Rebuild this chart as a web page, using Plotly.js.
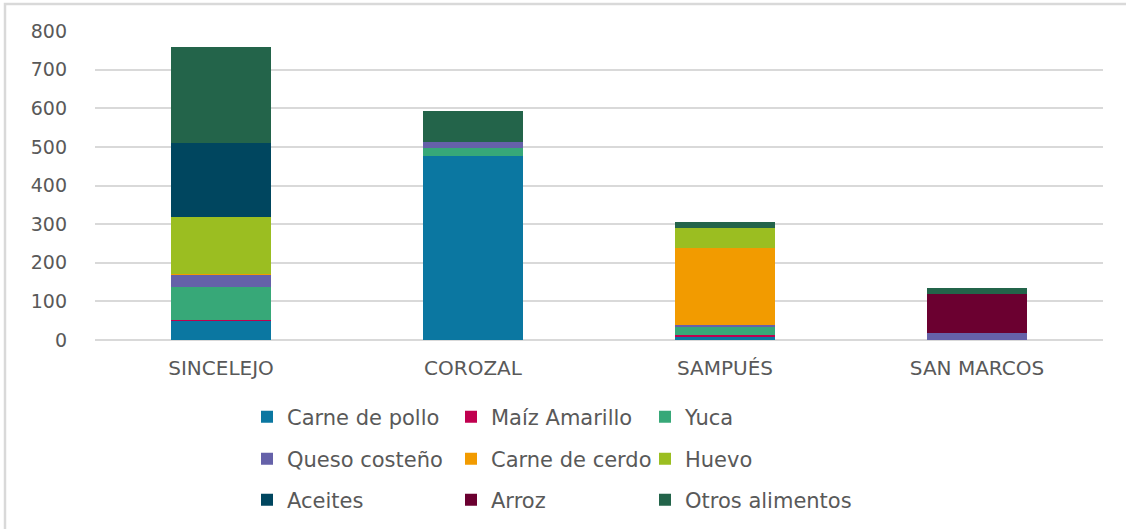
<!DOCTYPE html>
<html>
<head>
<meta charset="utf-8">
<script src="https://cdn.plot.ly/plotly-3.0.1.min.js"></script>
<style>html,body{margin:0;padding:0;background:#fff;}#chart{width:1126px;height:529px;}</style>
</head>
<body>
<div id="chart"></div>
<script>
const categories = ["SINCELEJO", "COROZAL", "SAMPUÉS", "SAN MARCOS"];
const seriesNames = ["Carne de pollo", "Maíz Amarillo", "Yuca", "Queso costeño", "Carne de cerdo", "Huevo", "Aceites", "Arroz", "Otros alimentos"];
const carneDePollo = [50, 477, 7, 0];
const maizAmarillo = [2, 0, 6, 0];
const yuca = [84, 20, 20, 0];
const quesoCosteno = [33, 16, 6, 19];
const carneDeCerdo = [2, 0, 200, 0];
const huevo = [147, 0, 50, 0];
const aceites = [192, 0, 0, 0];
const arroz = [0, 0, 0, 99];
const otrosAlimentos = [249, 79, 16, 16];
const yTicks = [0, 100, 200, 300, 400, 500, 600, 700, 800];

const seriesValues = [carneDePollo, maizAmarillo, yuca, quesoCosteno, carneDeCerdo, huevo, aceites, arroz, otrosAlimentos];
const colors = ["#0b77a1", "#c0004f", "#37a878", "#6561a9", "#f29b00", "#9bbe21", "#00465f", "#6b0030", "#23644a"];

const FONT = "DejaVu Sans, sans-serif";
const TXT = "#595959";

// legend grid: 3 columns x 3 rows
const colX = [247, 451, 645];
const rowY = [417, 459, 500];

const traces = seriesNames.map((name, i) => ({
  type: "bar",
  name: name,
  x: categories,
  y: seriesValues[i],
  marker: {color: colors[i], line: {width: 0}},
  legend: i === 0 ? "legend" : "legend" + (i + 1),
  hoverinfo: "x+y+name"
}));

const layout = {
  width: 1126,
  height: 529,
  margin: {l: 95, r: 23, t: 31, b: 189},
  paper_bgcolor: "#ffffff",
  plot_bgcolor: "#ffffff",
  barmode: "stack",
  bargap: 0.6,
  font: {family: FONT, color: TXT, size: 18},
  showlegend: true,
  xaxis: {
    type: "category",
    showgrid: false,
    showline: false,
    zeroline: false,
    ticks: "",
    tickfont: {family: FONT, size: 20, color: TXT},
    ticklabelstandoff: 14
  },
  yaxis: {
    range: [0, 800],
    tickvals: yTicks,
    ticktext: yTicks.map(String),
    showgrid: true,
    gridcolor: "#d9d9d9",
    gridwidth: 2,
    zeroline: true,
    zerolinecolor: "#d9d9d9",
    zerolinewidth: 2,
    showline: false,
    ticks: "",
    tickfont: {family: FONT, size: 19, color: TXT},
    ticklabelstandoff: 27
  },
  shapes: [{
    type: "rect", xref: "paper", yref: "paper",
    x0: (5 - 95) / 1008, x1: 1.5,
    y0: -1, y1: 1 + (31 - 4) / 309,
    line: {color: "#d9d9d9", width: 2.5},
    fillcolor: "rgba(0,0,0,0)",
    layer: "below"
  }]
};

seriesNames.forEach((n, i) => {
  const key = i === 0 ? "legend" : "legend" + (i + 1);
  layout[key] = {
    xref: "container", yref: "container",
    x: colX[i % 3] / 1126,
    y: 1 - rowY[Math.floor(i / 3)] / 529,
    xanchor: "left", yanchor: "middle",
    orientation: "h",
    bgcolor: "rgba(0,0,0,0)",
    borderwidth: 0,
    font: {family: FONT, size: 21, color: TXT},
    itemclick: false, itemdoubleclick: false
  };
});

Plotly.newPlot("chart", traces, layout, {displayModeBar: false, staticPlot: true});
</script>
</body>
</html>
